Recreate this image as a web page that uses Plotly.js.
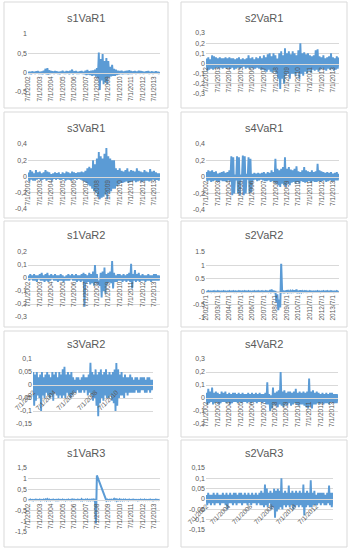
<!DOCTYPE html>
<html><head><meta charset="utf-8">
<script src="https://cdn.plot.ly/plotly-3.0.1.min.js"></script>
<style>html,body{margin:0;padding:0;background:#fff}#c{width:353px;height:550px}</style>
</head><body><div id="c"></div>
<script>
// ---- categories (monthly observations, Jul 2002 .. Jan 2014) ----
const startYear = 2002, startMonth = 7, nObs = 139;
const yearTicks = [2002,2003,2004,2005,2006,2007,2008,2009,2010,2011,2012,2013];
const tickLabelsUS = ["7/1/2002","7/1/2003","7/1/2004","7/1/2005","7/1/2006","7/1/2007","7/1/2008","7/1/2009","7/1/2010","7/1/2011","7/1/2012","7/1/2013"];
const tickLabelsISO = ["2002/7/1","2003/7/1","2004/7/1","2005/7/1","2006/7/1","2007/7/1","2008/7/1","2009/7/1","2010/7/1","2011/7/1","2012/7/1","2013/7/1"];
const tickYears2 = [2002,2004,2006,2008,2010];
const tickLabels2 = ["7/1/2002","7/1/2004","7/1/2006","7/1/2008","7/1/2010"];
const tickYears2b = [2002,2004,2006,2008,2010,2012];
const tickLabels2b = ["7/1/2002","7/1/2004","7/1/2006","7/1/2008","7/1/2010","7/1/2012"];

// ---- series values ----
const s1VaR1 = [.03,-.03,.02,-.04,.03,-.02,
.02,-.03,.03,-.02,.04,-.03,.02,-.03,.03,-.04,.05,-.03,
.1,-.04,.12,-.05,.06,-.03,.04,-.02,.03,-.03,.04,-.02,
.03,-.03,.02,-.04,.03,-.02,.05,-.03,.02,-.03,.04,-.02,
.03,-.04,.05,-.03,.08,-.04,.03,-.02,.04,-.03,.02,-.03,
.03,-.02,.04,-.03,.02,-.04,.05,-.06,.07,-.05,.04,-.06,
.05,-.08,.06,-.07,.08,-.1,.12,-.15,.52,-.45,.35,-.2,
.48,-.3,.3,-.25,.38,-.3,.3,-.12,.15,-.1,.2,-.08,
.1,-.08,.08,-.06,.05,-.05,.04,-.03,.05,-.04,.03,-.03,
.04,-.03,.05,-.04,.06,-.03,.04,-.03,.03,-.02,.04,-.03,
.03,-.02,.05,-.03,.04,-.02,.03,-.03,.02,-.02,.03,-.02,
.04,-.03,.02,-.02,.03,-.03,.02,-.02,.03,-.02,.02,-.03,
.02];
const s2VaR1 = [.05,-.07,.06,-.06,.04,-.05,
.08,-.06,.07,-.05,.06,-.04,.05,-.05,.06,-.04,.05,-.05,
.05,-.04,.06,-.05,.05,-.04,.06,-.05,.05,-.04,.05,-.06,
.04,-.05,.05,-.04,.06,-.05,.04,-.04,.05,-.03,.04,-.05,
.05,-.04,.08,-.05,.05,-.04,.06,-.05,.04,-.05,.06,-.04,
.05,-.05,.07,-.06,.05,-.06,.08,-.07,.06,-.08,.09,-.06,
.1,-.08,.07,-.09,.1,-.07,.08,-.1,.05,-.15,.1,-.25,
.12,-.15,.08,-.2,.15,-.12,.1,-.1,.12,-.15,.09,-.1,
.12,-.1,.1,-.12,.08,-.09,.13,-.15,.2,-.1,.1,-.12,
.11,-.08,.09,-.1,.1,-.07,.08,-.09,.07,-.06,.08,-.07,
.13,-.06,.14,-.08,.07,-.06,.06,-.05,.08,-.06,.05,-.07,
.06,-.05,.07,-.06,.1,-.05,.06,-.07,.05,-.06,.07,-.05,
.06];
const s3VaR1 = [.05,-.06,.08,-.04,.06,-.05,
.04,-.05,.08,-.04,.05,-.03,.06,-.05,.04,-.04,.05,-.03,
.08,-.05,.06,-.04,.05,-.04,.03,-.05,.04,-.03,.05,-.04,
.04,-.03,.05,-.04,.03,-.04,.05,-.03,.04,-.05,.06,-.04,
.05,-.04,.04,-.05,.06,-.04,.05,-.03,.04,-.04,.05,-.03,
.05,-.04,.06,-.05,.05,-.06,.07,-.08,.1,-.1,.12,-.12,
.1,-.15,.2,-.18,.15,-.2,.22,-.25,.3,-.28,.25,-.26,
.22,-.25,.28,-.22,.35,-.28,.25,-.2,.22,-.18,.2,-.15,
.2,-.15,.1,-.12,.08,-.1,.1,-.08,.07,-.08,.06,-.07,
.08,-.06,.1,-.08,.06,-.07,.08,-.06,.07,-.05,.06,-.07,
.1,-.06,.07,-.05,.06,-.07,.05,-.06,.08,-.05,.06,-.05,
.05,-.06,.09,-.05,.06,-.04,.07,-.05,.05,-.04,.04,-.05,
.04];
const s4VaR1 = [.06,-.05,.08,-.04,.07,-.06,
.08,-.05,.06,-.04,.07,-.05,.04,-.06,.05,-.04,.06,-.05,
.07,-.05,.05,-.06,.06,-.04,.08,-.05,.25,-.22,.24,-.2,
.03,-.04,.25,-.2,.24,-.22,.03,-.03,.26,-.22,.25,-.2,
.04,-.03,.24,-.2,.22,-.18,.04,-.04,.05,-.03,.04,-.05,
.05,-.04,.04,-.03,.05,-.04,.06,-.05,.04,-.05,.06,-.04,
.05,-.06,.08,-.05,.06,-.07,.22,-.08,.1,-.1,.08,-.12,
.1,-.08,.12,-.1,.24,-.12,.1,-.08,.12,-.1,.09,-.07,
.08,-.06,.1,-.08,.13,-.06,.07,-.08,.06,-.05,.08,-.06,
.12,-.07,.08,-.06,.07,-.05,.06,-.07,.08,-.05,.06,-.06,
.07,-.06,.16,-.05,.08,-.06,.07,-.05,.06,-.04,.05,-.06,
.06,-.05,.05,-.04,.06,-.05,.04,-.05,.05,-.04,.06,-.04,
.04];
const s1VaR2 = [.02,-.02,.03,-.01,.02,-.02,
.03,-.02,.02,-.03,.02,-.01,.03,-.02,.04,-.02,.02,-.03,
.03,-.02,.04,-.03,.02,-.02,.03,-.01,.02,-.02,.03,-.02,
.02,-.03,.02,-.02,.03,-.02,.02,-.03,.01,-.02,.02,-.02,
.03,-.02,.02,-.01,.03,-.02,.02,-.02,.03,-.03,.02,-.02,
.02,-.03,.03,-.02,.04,-.22,.03,-.04,.02,-.03,.04,-.05,
.03,-.04,.05,-.06,.1,-.04,.03,-.05,-.02,-.06,.04,-.15,
.05,-.1,.08,-.12,.03,-.05,.04,-.03,.05,-.04,.13,-.08,
.04,-.03,.02,-.03,.03,-.02,.03,-.02,.02,-.03,.03,-.02,
.02,-.03,.03,-.02,.04,-.03,.11,-.08,.03,-.02,.06,-.03,
.03,-.02,.04,-.03,.02,-.02,.03,-.02,.02,-.03,.02,-.02,
.03,-.02,.02,-.03,.02,-.02,.03,-.02,.03,-.02,.02,-.02,
.02];
const s2VaR2 = [.01,-.01,.02,-.01,.01,-.02,
.01,-.01,.02,-.02,.01,-.01,.02,-.01,.01,-.02,.01,-.01,
.02,-.01,.01,-.02,.01,-.01,.02,-.01,.01,-.01,.02,-.02,
.01,-.02,.01,-.01,.02,-.01,.01,-.03,.01,-.01,.02,-.01,
.01,-.01,.02,-.01,.01,-.02,.01,-.01,.02,-.01,.01,-.01,
.02,-.01,.01,-.01,.02,-.02,.01,-.01,.02,-.01,.01,-.02,
.02,-.02,.08,-.03,.04,-.05,.03,-.4,-.1,-.7,-.3,-.6,
1.05,-.05,.04,-.06,.03,-.04,.05,-.03,.02,-.04,.03,-.02,
.03,-.04,.05,-.03,.08,-.06,.03,-.02,.04,-.03,.02,-.02,
.02,-.01,.02,-.02,.01,-.01,.02,-.01,.01,-.02,.01,-.01,
.01,-.01,.02,-.01,.01,-.02,.01,-.01,.02,-.01,.01,-.01,
.02,-.01,.01,-.01,.02,-.01,.01,-.02,.01,-.01,.02,-.01,
.01];
const s3VaR2 = [.05,-.08,.04,-.06,.05,-.04,
.03,-.05,.04,-.1,.05,-.04,.03,-.05,.04,-.03,.05,-.04,
.04,-.05,.03,-.04,.05,-.06,.04,-.03,.05,-.04,.03,-.05,
.05,-.04,.04,-.05,.06,-.04,.07,-.05,.04,-.03,.05,-.04,
.04,-.05,.05,-.04,.03,-.03,.02,-.03,.03,-.02,.03,-.03,
.02,-.03,.03,-.02,.04,-.03,.03,-.02,.03,-.04,.04,-.03,
.085,-.04,.05,-.06,.04,-.05,.06,-.08,.04,-.12,.05,-.07,
.06,-.05,.04,-.06,.05,-.04,.06,-.05,.04,-.05,.05,-.04,
.04,-.06,.05,-.07,.06,-.1,.085,-.08,.06,-.05,.04,-.04,
.05,-.04,.03,-.05,.04,-.03,.03,-.04,.03,-.03,.04,-.03,
.03,-.03,.02,-.03,.03,-.02,.03,-.03,.02,-.03,.03,-.02,
.03,-.02,.03,-.03,.02,-.03,.03,-.02,.03,-.03,.02,-.02,
.02];
const s4VaR2 = [.04,-.05,.07,-.04,.05,-.03,
.08,-.05,.04,-.04,.05,-.03,.04,-.05,.03,-.04,.05,-.03,
.04,-.03,.05,-.04,.03,-.03,.04,-.05,.03,-.04,.04,-.03,
.04,-.03,.03,-.04,.04,-.03,.03,-.04,.04,-.03,.03,-.03,
.03,-.04,.04,-.03,.03,-.04,.04,-.03,.03,-.03,.04,-.04,
.03,-.03,.04,-.03,.03,-.04,.03,-.03,.04,-.05,.12,-.05,
.03,-.1,.02,-.08,.08,-.05,.04,-.06,.05,-.07,.06,-.05,
.2,-.06,.05,-.07,.06,-.05,.04,-.06,.05,-.04,.05,-.06,
.04,-.05,.05,-.04,.07,-.05,.04,-.06,.05,-.05,.04,-.05,
.05,-.06,.04,-.07,.05,-.08,.15,-.06,.05,-.08,.06,-.05,
.04,-.05,.05,-.04,.04,-.05,.03,-.04,.04,-.05,.03,-.04,
.04,-.04,.03,-.05,.04,-.03,.04,-.04,.03,-.04,.03,-.04,
.03];
const s1VaR3 = [.01,-.01,.02,-.01,.01,-.02,
.01,-.01,.02,-.01,.01,-.01,.02,-.02,.01,-.01,.02,-.01,
.03,-.02,.04,-.01,.02,-.02,.01,-.01,.02,-.01,.01,-.02,
.01,-.02,.02,-.01,.01,-.01,.02,-.01,.01,-.02,.01,-.01,
.02,-.01,.01,-.02,.03,-.01,.02,-.01,.01,-.01,.02,-.01,
.01,-.02,.04,-.02,.01,-.01,.02,-.01,.03,-.02,.01,-.02,
.02,-.01,.03,-.02,.05,-1.1,1.15,null,null,null,null,null,
null,null,null,.02,-.03,.02,-.02,.01,-.02,.02,-.01,.01,
.05,-.04,.06,-.03,.02,-.02,.03,-.02,.01,-.02,.02,-.01,
.02,-.01,.01,-.02,.02,-.01,.01,-.01,.02,-.01,.01,-.01,
.01,-.02,.01,-.01,.02,-.01,.01,-.01,.02,-.01,.01,-.01,
.01,-.01,.02,-.01,.01,-.02,.01,-.01,.02,-.01,.01,-.01,
.01];
const s2VaR3 = [.02,-.03,.03,-.02,.02,-.03,
.02,-.02,.03,-.03,.02,-.02,.03,-.02,.02,-.03,.02,-.02,
.03,-.02,.02,-.03,.03,-.05,.02,-.02,.03,-.02,.02,-.03,
.03,-.02,.03,-.03,.02,-.02,.03,-.02,.03,-.03,.02,-.02,
.03,-.02,.02,-.03,.03,-.02,.02,-.03,.03,-.02,.02,-.02,
.03,-.03,.02,-.02,.03,-.03,.04,-.03,.03,-.04,.07,-.03,
.05,-.04,.03,-.02,.04,-.05,.03,-.04,.05,-.09,.04,-.06,
.05,-.05,.04,-.04,.1,-.05,.03,-.03,.04,-.04,.03,-.03,
.065,-.04,.03,-.03,.04,-.05,.03,-.04,.04,-.03,.03,-.04,
.04,-.03,.03,-.04,.07,-.08,.03,-.04,.04,-.03,.03,-.04,
.09,-.04,.03,-.03,.04,-.03,.02,-.03,.03,-.02,.03,-.03,
.03,-.02,.03,-.03,.02,-.03,.03,-.02,.065,-.03,.03,-.04,
.03];

// y tick values / labels
const yt1 = [-0.5,0,0.5,1], yl1 = ["-0,5","0","0,5","1"];
const yt2 = [-0.3,-0.2,-0.1,0,0.1,0.2,0.3], yl2 = ["-0,3","-0,2","-0,1","0","0,1","0,2","0,3"];
const yt3 = [-0.4,-0.2,0,0.2,0.4], yl3 = ["-0,4","-0,2","0","0,2","0,4"];
const yt5 = [-0.3,-0.2,-0.1,0,0.1,0.2], yl5 = ["-0,3","-0,2","-0,1","0","0,1","0,2"];
const yt6 = [-1,-0.5,0,0.5,1,1.5], yl6 = ["-1","-0.5","0","0.5","1","1.5"];
const yt7 = [-0.15,-0.1,-0.05,0,0.05,0.1], yl7 = ["-0,15","-0,1","-0,05","0","0,05","0,1"];
const yt8 = [-0.2,-0.1,0,0.1,0.2,0.3], yl8 = ["-0,2","-0,1","0","0,1","0,2","0,3"];
const yt9 = [-1.5,-1,-0.5,0,0.5,1,1.5], yl9 = ["-1,5","-1","-0,5","0","0,5","1","1,5"];
const yt10 = [-0.15,-0.1,-0.05,0,0.05,0.1,0.15], yl10 = ["-0,15","-0,1","-0,05","0","0,05","0,1","0,15"];

// ---- build ----
const dates = [];
for (let i = 0; i < nObs; i++) {
  const m = startMonth - 1 + i;
  const y = startYear + Math.floor(m / 12);
  const mm = (m % 12) + 1;
  dates.push(y + "-" + String(mm).padStart(2, "0") + "-01");
}
const W = 353, H = 550;
const fx = v => v / W, fy = v => 1 - v / H;

const panels = [
  {t:"s1VaR1", d:s1VaR1, tv:yt1, tl:yl1, xy:yearTicks, xl:tickLabelsUS, ang:-90, box:[4,2,168,108], pa:[28,34,160,92], ty:18, lw:1.9},
  {t:"s2VaR1", d:s2VaR1, tv:yt2, tl:yl2, xy:yearTicks, xl:tickLabelsUS, ang:-90, box:[181,2,347,108], pa:[206,33,339,94], ty:18, lw:1.9},
  {t:"s3VaR1", d:s3VaR1, tv:yt3, tl:yl3, xy:yearTicks, xl:tickLabelsUS, ang:-90, box:[4,112,168,218], pa:[28,144,160,209], ty:128, lw:1.9},
  {t:"s4VaR1", d:s4VaR1, tv:yt3, tl:yl3, xy:yearTicks, xl:tickLabelsUS, ang:-90, box:[181,112,347,218], pa:[206,144,339,210], ty:128, lw:1.9},
  {t:"s1VaR2", d:s1VaR2, tv:yt5, tl:yl5, xy:yearTicks, xl:tickLabelsUS, ang:-90, box:[4,221,168,327], pa:[28,252,160,317], ty:235, lw:1.9},
  {t:"s2VaR2", d:s2VaR2, tv:yt6, tl:yl6, xy:yearTicks, xl:tickLabelsISO, ang:-90, box:[181,221,347,327], pa:[206,252,339,318], ty:235, lw:2},
  {t:"s3VaR2", d:s3VaR2, tv:yt7, tl:yl7, xy:tickYears2, xl:tickLabels2, ang:-45, box:[4,331,168,437], pa:[33,359,153,424], ty:344, lw:1.9},
  {t:"s4VaR2", d:s4VaR2, tv:yt8, tl:yl8, xy:yearTicks, xl:tickLabelsUS, ang:-90, box:[181,331,347,437], pa:[206,359,338,424], ty:344, lw:1.9},
  {t:"s1VaR3", d:s1VaR3, tv:yt9, tl:yl9, xy:yearTicks, xl:tickLabelsUS, ang:-90, box:[4,440,168,547], pa:[28,468,160,532], ty:453, lw:2},
  {t:"s2VaR3", d:s2VaR3, tv:yt10, tl:yl10, xy:tickYears2b, xl:tickLabels2b, ang:-45, box:[181,440,347,547], pa:[206,468,333,530], ty:453, lw:1.9}
];

const FONT = "Liberation Sans, Arial, sans-serif";
const txtCol = "#595959", gridCol = "#d9d9d9", lineCol = "#5B9BD5";
const traces = [], shapes = [], annotations = [];
const layout = {
  width: W, height: H, margin: {l:0, r:0, t:0, b:0},
  paper_bgcolor: "#fff", plot_bgcolor: "#fff", showlegend: false,
  font: {family: FONT, color: txtCol}
};

panels.forEach((p, i) => {
  const k = i + 1, sx = k === 1 ? "" : String(k);
  const ymin = p.tv[0], ymax = p.tv[p.tv.length - 1];
  const [x0, yt, x1, yb] = p.pa;
  const zeroPx = yt + (ymax - 0) / (ymax - ymin) * (yb - yt);
  traces.push({
    type: "scatter", mode: "lines", x: dates, y: p.d,
    xaxis: "x" + sx, yaxis: "y" + sx, connectgaps: true,
    line: {color: lineCol, width: p.lw}, hoverinfo: "skip"
  });
  layout["xaxis" + sx] = {
    domain: [fx(x0), fx(x1)], anchor: "free", position: fy(zeroPx),
    type: "date", range: ["2002-06-20", "2014-01-10"],
    tickmode: "array", tickvals: p.xy.map(y => y + "-07-01"), ticktext: p.xl,
    tickangle: p.ang, tickfont: {size: 6.5, color: txtCol, family: FONT},
    showgrid: false, zeroline: false, showline: true, linecolor: gridCol, linewidth: 1,
    ticks: "", fixedrange: true
  };
  layout["yaxis" + sx] = {
    domain: [fy(yb), fy(yt)], anchor: "x" + sx, range: [ymin, ymax],
    tickmode: "array", tickvals: p.tv, ticktext: p.tl,
    tickfont: {size: 7, color: txtCol, family: FONT},
    showgrid: true, gridcolor: gridCol, gridwidth: 1, zeroline: false, showline: false,
    ticks: "", fixedrange: true
  };
  shapes.push({type: "rect", xref: "paper", yref: "paper",
    x0: fx(p.box[0]), x1: fx(p.box[2]), y0: fy(p.box[3]), y1: fy(p.box[1]),
    line: {color: gridCol, width: 1}, fillcolor: "rgba(0,0,0,0)", layer: "below"});
  annotations.push({xref: "paper", yref: "paper", x: fx((p.box[0] + p.box[2]) / 2), y: fy(p.ty),
    text: p.t, showarrow: false, xanchor: "center", yanchor: "middle",
    font: {size: 11, color: txtCol, family: FONT}});
});
layout.shapes = shapes;
layout.annotations = annotations;
Plotly.newPlot("c", traces, layout, {staticPlot: true, displayModeBar: false});
</script>
</body></html>
